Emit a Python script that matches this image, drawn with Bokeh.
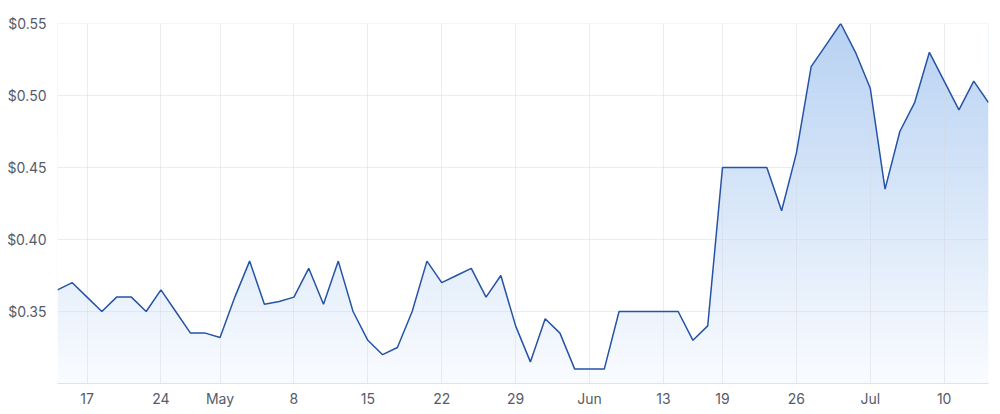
import numpy as np
from bokeh.plotting import figure
from bokeh.models import Range1d, FixedTicker
from bokeh.embed import file_html
from bokeh.resources import INLINE

# Trading days (ASX), Apr 13 – Jul 13 2023
dates = [
    "2023-04-13", "2023-04-14", "2023-04-17", "2023-04-18", "2023-04-19", "2023-04-20", "2023-04-21",
    "2023-04-24", "2023-04-26", "2023-04-27", "2023-04-28",
    "2023-05-01", "2023-05-02", "2023-05-03", "2023-05-04", "2023-05-05",
    "2023-05-08", "2023-05-09", "2023-05-10", "2023-05-11", "2023-05-12",
    "2023-05-15", "2023-05-16", "2023-05-17", "2023-05-18", "2023-05-19",
    "2023-05-22", "2023-05-23", "2023-05-24", "2023-05-25", "2023-05-26",
    "2023-05-29", "2023-05-30", "2023-05-31", "2023-06-01", "2023-06-02",
    "2023-06-05", "2023-06-06", "2023-06-07", "2023-06-08", "2023-06-09",
    "2023-06-13", "2023-06-14", "2023-06-15", "2023-06-16",
    "2023-06-19", "2023-06-20", "2023-06-21", "2023-06-22", "2023-06-23",
    "2023-06-26", "2023-06-27", "2023-06-28", "2023-06-29", "2023-06-30",
    "2023-07-03", "2023-07-04", "2023-07-05", "2023-07-06", "2023-07-07",
    "2023-07-10", "2023-07-11", "2023-07-12", "2023-07-13",
]
prices = [
    0.365, 0.370, 0.360, 0.350, 0.360, 0.360, 0.350,
    0.365, 0.350, 0.335, 0.335,
    0.332, 0.360, 0.385, 0.355, 0.357,
    0.360, 0.380, 0.355, 0.385, 0.350,
    0.330, 0.320, 0.325, 0.350, 0.385,
    0.370, 0.375, 0.380, 0.360, 0.375,
    0.340, 0.315, 0.345, 0.335, 0.310,
    0.310, 0.310, 0.350, 0.350, 0.350,
    0.350, 0.350, 0.330, 0.340,
    0.450, 0.450, 0.450, 0.450, 0.420,
    0.460, 0.520, 0.535, 0.550, 0.530,
    0.505, 0.435, 0.475, 0.495, 0.530,
    0.510, 0.490, 0.510, 0.495,
]
tick_dates = ["2023-04-17", "2023-04-24", "2023-05-01", "2023-05-08", "2023-05-15",
              "2023-05-22", "2023-05-29", "2023-06-05", "2023-06-13", "2023-06-19",
              "2023-06-26", "2023-07-03", "2023-07-10"]
tick_labels = ["17", "24", "May", "8", "15", "22", "29", "Jun", "13", "19", "26", "Jul", "10"]
y_ticks = [0.35, 0.40, 0.45, 0.50, 0.55]
y_labels = ["$0.35", "$0.40", "$0.45", "$0.50", "$0.55"]
y_min, y_max = 0.30, 0.55

x = list(range(len(dates)))
tick_idx = [dates.index(d) for d in tick_dates]

p = figure(width=1000, height=414, output_backend="svg", toolbar_location=None,
           x_range=Range1d(0, len(dates) - 1), y_range=Range1d(y_min, y_max),
           min_border_left=57, min_border_right=12, min_border_top=23, min_border_bottom=31)
p.outline_line_color = None
p.background_fill_color = "white"
p.border_fill_color = "white"

# gradient fill: image behind, white mask above the price line
n = 256
top = np.array([184, 210, 243], dtype=float)
bot = np.array([250, 252, 255], dtype=float)
t = np.linspace(0, 1, n)[:, None]
cols = (bot * (1 - t) + top * t).astype(np.uint8)
img = np.empty((n, 1), dtype=np.uint32)
view = img.view(dtype=np.uint8).reshape((n, 1, 4))
view[:, 0, 0] = cols[:, 0]
view[:, 0, 1] = cols[:, 1]
view[:, 0, 2] = cols[:, 2]
view[:, 0, 3] = 255
p.image_rgba(image=[img], x=0, y=y_min, dw=len(dates) - 1, dh=y_max - y_min, level="image")
p.varea(x=x, y1=prices, y2=[y_max] * len(x), fill_color="white", level="image")

p.line(x, prices, line_color="#2553a6", line_width=1.5)

# axes
p.xaxis.ticker = FixedTicker(ticks=tick_idx)
p.xaxis.major_label_overrides = {i: l for i, l in zip(tick_idx, tick_labels)}
p.yaxis.ticker = FixedTicker(ticks=y_ticks)
p.yaxis.major_label_overrides = {v: l for v, l in zip(y_ticks, y_labels)}
for ax in (p.xaxis[0], p.yaxis[0]):
    ax.major_tick_line_color = None
    ax.minor_tick_line_color = None
    ax.major_label_text_font = "Inter"
    ax.major_label_text_font_size = "14px"
    ax.major_label_text_color = "#555b6a"
p.xaxis.axis_line_color = "#e2e3e8"
p.yaxis.axis_line_color = None
p.xaxis.major_label_standoff = 0
p.yaxis.major_label_standoff = 5

p.xgrid.ticker = FixedTicker(ticks=tick_idx)
p.ygrid.ticker = FixedTicker(ticks=y_ticks)
for g in (p.xgrid[0], p.ygrid[0]):
    g.grid_line_color = "#d5d8e0"
    g.grid_line_alpha = 0.45
    g.level = "underlay"

open("out.html", "w").write(file_html(p, INLINE))
